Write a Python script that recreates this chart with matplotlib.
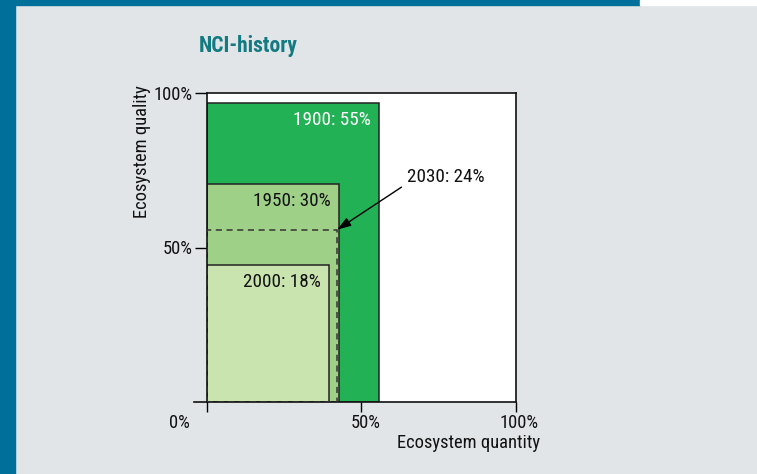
import matplotlib.pyplot as plt
import matplotlib.transforms as mtransforms
from matplotlib.patches import Rectangle

# nested rectangles: quantity (x) times quality (y) gives the NCI
years = ['1900', '1950', '2000', '2030']
quantity = [55.9, 42.8, 39.5, 42.2]
quality = [96.8, 70.5, 44.3, 55.8]
nci = [55, 30, 18, 24]
colors = ['#22b155', '#9fd088', '#c9e4ae']
xticks = [0, 50, 100]
xtick_labels = ['0%', '50%', '100%']
yticks = [50, 100]
ytick_labels = ['50%', '100%']

plt.rcParams['font.family'] = ['Roboto Condensed', 'DejaVu Sans']
plt.rcParams['font.size'] = 13.3

fig = plt.figure(figsize=(7.57, 4.74), dpi=100, facecolor='#e1e5e8')
W, H = 757, 474

# frame bars
fig.patches.append(Rectangle((0, 0), 15 / W, 1, transform=fig.transFigure, color='#00709a', zorder=0))
fig.patches.append(Rectangle((0, 1 - 5 / H), 640 / W, 5 / H, transform=fig.transFigure, color='#00709a', zorder=0))
fig.patches.append(Rectangle((640 / W, 1 - 5 / H), 117 / W, 5 / H, transform=fig.transFigure, color='white', zorder=0))

ax = fig.add_axes([207 / W, (H - 401.7) / H, 308.5 / W, 308.4 / H])
ax.set_facecolor('white')
ax.set_xlim(0, 100)
ax.set_ylim(0, 100)

for i in range(3):
    ax.bar(0, quality[i], width=quantity[i], align='edge', color=colors[i],
           edgecolor='#222222', linewidth=1.1, zorder=2)
    ax.annotate(f'{years[i]}: {nci[i]}%', xy=(quantity[i], quality[i]), xytext=(-6, -12),
                textcoords='offset points', ha='right', va='center', fontsize=13.8,
                color='white' if i == 0 else '#111111', zorder=4)

# 2030 scenario, dashed outline
ax.bar(0, quality[3], width=quantity[3], align='edge', fill=False, edgecolor='#333333',
       linewidth=1.1, linestyle=(0, (4, 3)), zorder=3)
ax.annotate(f'{years[3]}: {nci[3]}%', xy=(quantity[3], quality[3]), xytext=(64.7, 73),
            ha='left', va='center', zorder=4, color='#111111', fontsize=13.8,
            arrowprops=dict(arrowstyle='-|>,head_length=0.6,head_width=0.2', color='black',
                            lw=1, relpos=(0, 0.1), shrinkA=2, shrinkB=0))

for s in ax.spines.values():
    s.set_linewidth(1.2)
    s.set_color('#111111')
# x axis line runs a bit past the y axis
ax.plot([-4.3, 0], [0, 0], color='#111111', lw=1.2, clip_on=False)

ax.set_xticks(xticks, xtick_labels)
ax.set_yticks(yticks, ytick_labels)
ax.tick_params(axis='x', direction='out', length=7, width=1, pad=2, labelcolor='#111111')
ax.tick_params(axis='y', direction='out', length=8.5, width=1, pad=2, labelcolor='#111111')
lbls = ax.get_xticklabels()
lbls[0].set_transform(lbls[0].get_transform() + mtransforms.ScaledTranslation(-28 / 100, 0, fig.dpi_scale_trans))
for l in lbls[1:]:
    l.set_transform(l.get_transform() + mtransforms.ScaledTranslation(4 / 100, 0, fig.dpi_scale_trans))

ax.set_xlabel('Ecosystem quantity', ha='right', va='center', color='#111111')
ax.xaxis.set_label_coords(1.08, -0.133)
ax.set_ylabel('Ecosystem quality', va='center', color='#111111')
ax.yaxis.set_label_coords(-0.212, 0.81)

fig.text(248 / W, 1 - 46 / H, 'NCI-history', ha='center', va='center', fontsize=15.5,
         fontweight='bold', color='#127a80')

fig.savefig('out.png', dpi=100, facecolor=fig.get_facecolor())
